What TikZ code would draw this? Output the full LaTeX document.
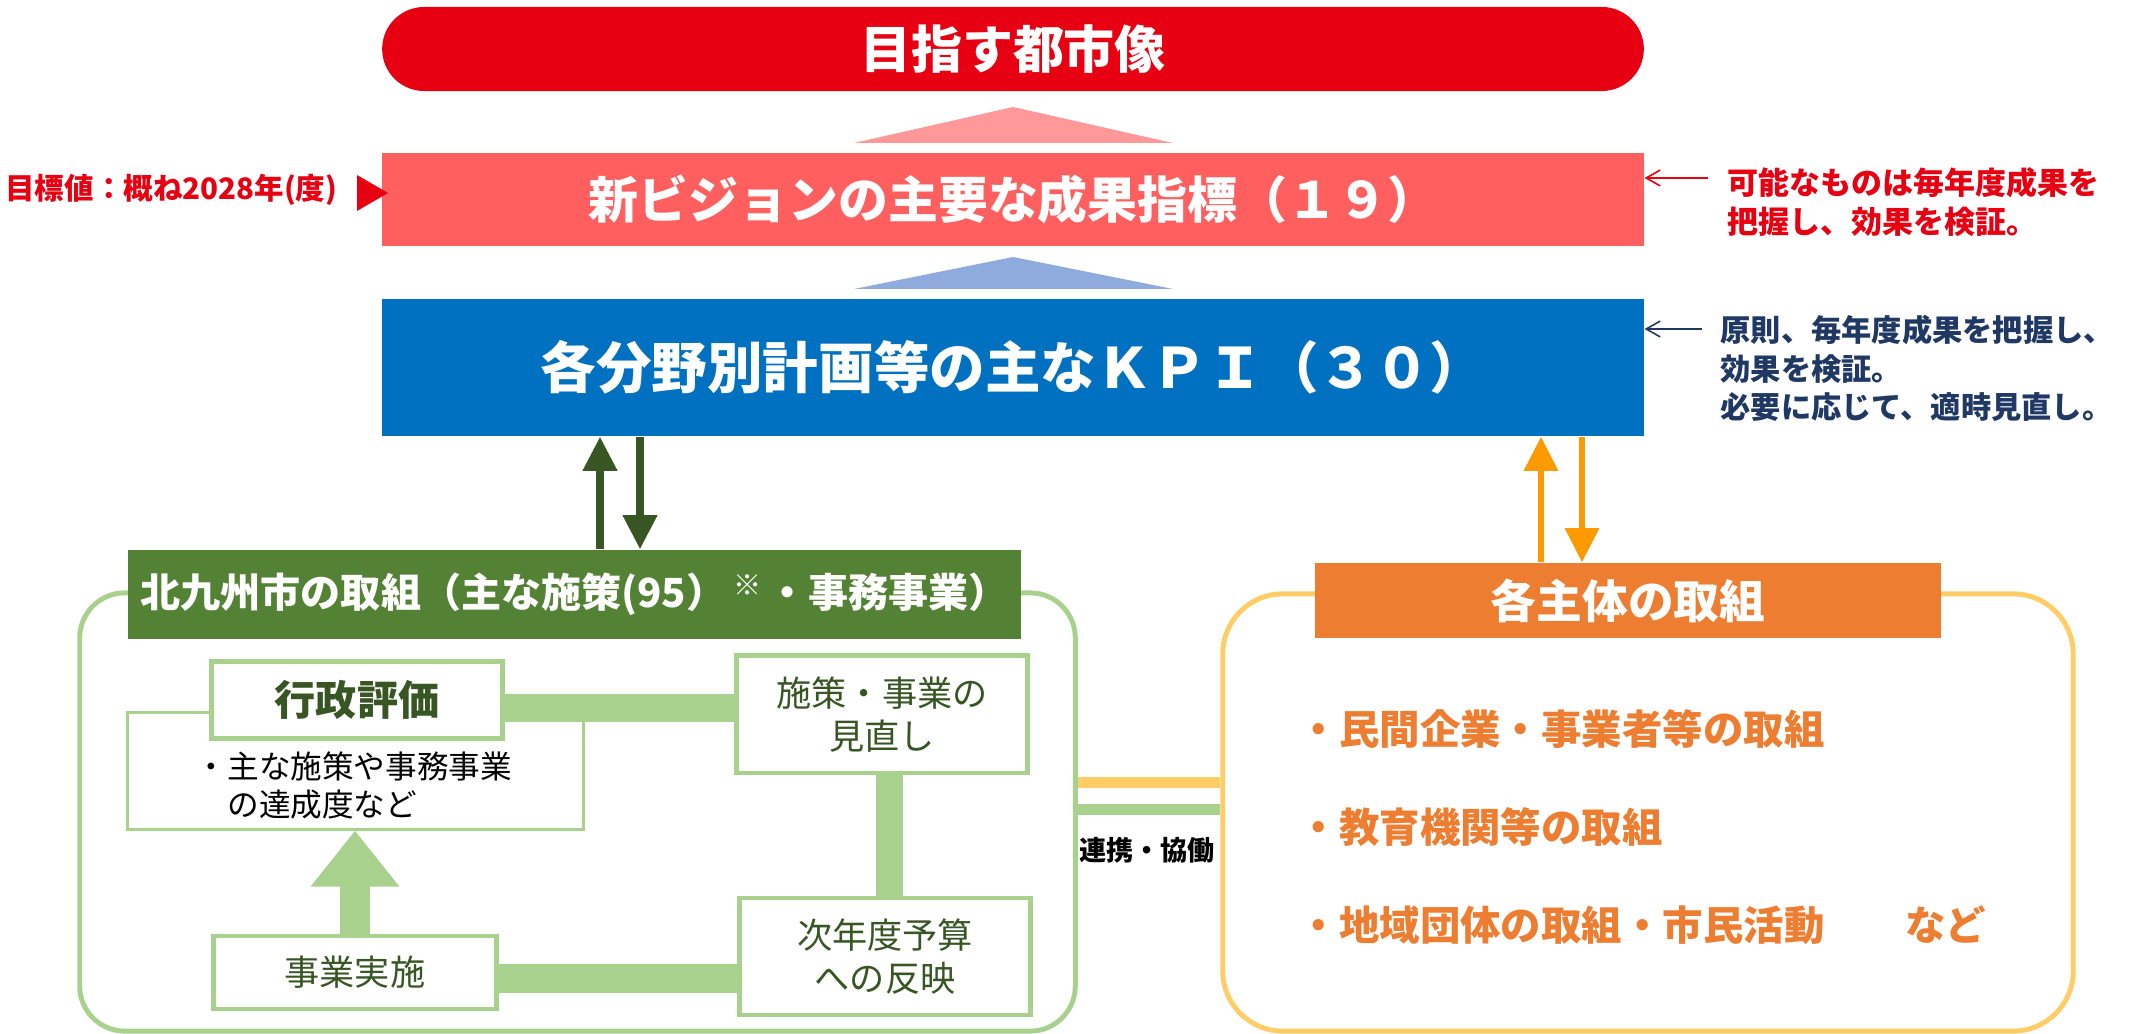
\documentclass[tikz,border=0pt]{standalone}
\usepackage{fontspec}
\setmainfont{Noto Sans CJK JP}
\usepackage{tikz}
\usetikzlibrary{arrows.meta}
\definecolor{red600}{HTML}{E60012}
\definecolor{red400}{HTML}{FF5F5F}
\definecolor{red200}{HTML}{FF9999}
\definecolor{blue600}{HTML}{0070C0}
\definecolor{blue200}{HTML}{8FAADC}
\definecolor{navy800}{HTML}{1F3864}
\definecolor{green600}{HTML}{548235}
\definecolor{green800}{HTML}{375623}
\definecolor{green300}{HTML}{A9D18E}
\definecolor{orange600}{HTML}{ED7D31}
\definecolor{orange500}{HTML}{FF9900}
\definecolor{orange300}{HTML}{FFCC66}
\newcommand{\fsz}[2]{\fontsize{#1}{#2}\selectfont}
\tikzstyle{bandbox}=[rectangle, minimum width=12.61cm, text=white, inner sep=0, font=\bfseries]
\tikzstyle{headbox}=[rectangle, text=white, inner sep=0]
\tikzstyle{framebox}=[rectangle, line width=1.4pt, inner sep=0]
\tikzstyle{stepbox}=[rectangle, draw=green300, line width=1.4pt, fill=white, text=green800, align=center, inner sep=0]
\tikzstyle{notebox}=[rectangle, draw=green300, line width=0.85pt, fill=white, inner sep=0]
\tikzstyle{memo}=[anchor=west, align=left, inner sep=0, font=\bfseries]
\tikzstyle{memoarrow}=[line width=0.45pt, -{Straight Barb[length=4pt, width=4.5pt]}]
\tikzstyle{linkbar}=[draw=green300]
\tikzstyle{kpiarrow}=[line width=2pt, -{Triangle[length=3.4mm, width=3.3mm]}]

\begin{document}
\begin{tikzpicture}[x=0.01cm, y=-0.01cm]
	\useasboundingbox (0,0) rectangle (2138,1034);
	% upper part
	\node[bandbox, fill=red600, minimum height=0.84cm, rounded corners=0.42cm, font=\fsz{14.5pt}{17pt}\bfseries] (goal) at (1013,49) {目指す都市像};
	\fill[red200] (854,143) -- (1013,107) -- (1173,143) -- cycle;
	\node[bandbox, fill=red400, minimum height=0.93cm, font=\fsz{14.2pt}{17pt}\bfseries] (vision) at (1013,199.5) {新ビジョンの主要な成果指標（１９）};
	\fill[blue200] (854,289) -- (1013,257) -- (1173,289) -- cycle;
	\node[bandbox, fill=blue600, minimum height=1.37cm, font=\fsz{15.8pt}{19pt}\bfseries] (kpi) at (1013,367.5) {各分野別計画等の主なＫＰＩ（３０）};
	% notes
	\node[memo, anchor=east, text=red600, font=\fsz{8.4pt}{10pt}\bfseries] (target) at (338,190) {目標値：概ね2028年(度)};
	\fill[red600] (357,175) -- (388,193) -- (357,211) -- cycle;
	\node[memo, text=red600, font=\fsz{8.8pt}{11.1pt}\bfseries] (rednote) at (1727,202.5) {可能なものは毎年度成果を\\把握し、効果を検証。};
	\coordinate (rn) at (1708,178);
	\draw[memoarrow, red600] (rn) -- (rn -| vision.east);
	\node[memo, text=navy800, font=\fsz{8.6pt}{10.95pt}\bfseries] (bluenote) at (1720,368.5) {原則、毎年度成果を把握し、\\効果を検証。\\必要に応じて、適時見直し。};
	\coordinate (bn) at (1702,329);
	\draw[memoarrow, navy800] (bn) -- (bn -| kpi.east);
	% city side
	\node[framebox, draw=green300, minimum width=9.95cm, minimum height=4.38cm, rounded corners=0.45cm] (cityarea) at (577.5,812) {};
	\node[headbox, fill=green600, minimum width=8.93cm, minimum height=0.89cm, font=\fsz{11.4pt}{13pt}\bfseries] (cityhead) at (574.5,594.5) {北九州市の取組（主な施策(95）\,\raisebox{0.3em}{\fsz{8pt}{8pt}※}\,・事務事業）};
	\node[notebox, minimum width=4.55cm, minimum height=1.16cm] (evalsub) at (355.5,771) {};
	\node[stepbox, minimum width=2.90cm, minimum height=0.77cm, font=\fsz{11.7pt}{14pt}\bfseries] (eval) at (357,700) {行政評価};
	\node[memo, font=\fsz{9pt}{10.8pt}] (evaltext) at (195,786) {・主な施策や事務事業\\　の達成度など};
	\node[stepbox, minimum width=2.90cm, minimum height=1.17cm, font=\fsz{10pt}{12.3pt}] (review) at (882,714.5) {施策・事業の\\見直し};
	\node[stepbox, minimum width=2.90cm, minimum height=1.17cm, font=\fsz{10pt}{12.4pt}] (budget) at (885,956.5) {次年度予算\\への反映};
	\node[stepbox, minimum width=2.82cm, minimum height=0.73cm, font=\fsz{10pt}{12pt}] (exec) at (355,972.5) {事業実施};
	\coordinate (e1) at ([yshift=-2.3pt]eval.east);
	\draw[linkbar, line width=0.28cm] (e1) -- (e1 -| review.west);
	\coordinate (r1) at ([xshift=2pt]review.south);
	\draw[linkbar, line width=0.27cm] (r1) -- (r1 |- budget.north);
	\coordinate (x1) at ([yshift=-1.7pt]exec.east);
	\draw[linkbar, line width=0.29cm] (x1) -- (x1 -| budget.west);
	\draw[linkbar, line width=0.29cm, -{Triangle[length=5.6mm, width=8.5mm]}, green300] (exec.north) -- (exec.north |- evalsub.south);
	\coordinate (gu) at (600,0);
	\coordinate (gd) at (640,0);
	\draw[kpiarrow, green800] (gu |- cityhead.north) -- (gu |- kpi.south);
	\draw[kpiarrow, green800] (gd |- kpi.south) -- (gd |- cityhead.north);
	% other actors
	\node[framebox, draw=orange300, minimum width=8.5cm, minimum height=4.37cm, rounded corners=0.6cm] (actorarea) at (1648,812.5) {};
	\node[headbox, fill=orange600, minimum width=6.26cm, minimum height=0.75cm, font=\fsz{13pt}{15pt}\bfseries] (actorhead) at (1628,600.5) {各主体の取組};
	\node[memo, text=orange600, font=\fsz{11.5pt}{13pt}\bfseries] (act1) at (1298,729) {・民間企業・事業者等の取組};
	\node[memo, text=orange600, font=\fsz{11.5pt}{13pt}\bfseries] (act2) at (1298,827) {・教育機関等の取組};
	\node[memo, text=orange600, font=\fsz{11.5pt}{13pt}\bfseries] (act3) at (1298,925) {・地域団体の取組・市民活動　　など};
	\coordinate (ou) at (1541,0);
	\coordinate (od) at (1582,0);
	\draw[kpiarrow, line width=1.7pt, orange500] (ou |- actorhead.north) -- (ou |- kpi.south);
	\draw[kpiarrow, line width=1.7pt, orange500] (od |- kpi.south) -- (od |- actorhead.north);
	% links
	\coordinate (l1) at (0,782.5);
	\coordinate (l2) at (0,809.5);
	\draw[line width=0.11cm, orange300] (l1 -| cityarea.east) -- (l1 -| actorarea.west);
	\draw[line width=0.11cm, green300] (l2 -| cityarea.east) -- (l2 -| actorarea.west);
	\node[inner sep=0, font=\fsz{7.7pt}{9pt}\bfseries] (coop) at (1147,850) {連携・協働};
\end{tikzpicture}
\end{document}
